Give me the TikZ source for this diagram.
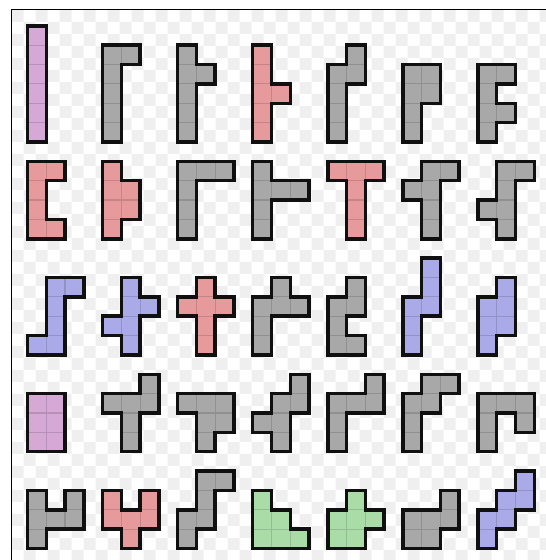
\documentclass[tikz,border=0pt]{standalone}
\usepackage{tikz}
\definecolor{rimink}{HTML}{101010}
\definecolor{slate}{HTML}{A8A8A8}
\definecolor{orchid}{HTML}{D5A8D6}
\definecolor{rose}{HTML}{E79A9C}
\definecolor{periwinkle}{HTML}{AAAAE8}
\definecolor{mint}{HTML}{A9DCA7}
\definecolor{checker}{HTML}{EFEFEF}
\tikzset{
  rim/.style={draw=rimink,line width=3.5pt,line cap=rect},
  seam/.style={line width=1.2pt},
  frameline/.style={draw=black,line width=.9pt},
}
\makeatletter
% outer edge of a cell, drawn only when the neighbour #1 is not in the list #2
\newcommand\hexedge[3]{%
  \edef\hex@tmp{\noexpand\in@{,#1,}{,#2,}}\hex@tmp
  \ifin@\else\draw[rim] #3;\fi}
% #1,#2 = top left corner, #3 = colour, #4 = cells col/row
\newcommand\hexomino[4]{%
  \begin{scope}[shift={(#1,#2)}]
    \foreach \cx/\cy in {#4}{\fill[#3] (\cx,-\cy) rectangle ++(1,-1);}
    \foreach \cx/\cy in {#4}{\draw[seam,draw=#3!86!black] (\cx,-\cy) rectangle ++(1,-1);}
    \foreach \cx/\cy in {#4}{%
      \pgfmathtruncatemacro\lx{\cx-1}\pgfmathtruncatemacro\rx{\cx+1}%
      \pgfmathtruncatemacro\uy{\cy-1}\pgfmathtruncatemacro\dy{\cy+1}%
      \hexedge{\lx/\cy}{#4}{(\cx,-\cy) -- ++(0,-1)}%
      \hexedge{\rx/\cy}{#4}{(\rx,-\cy) -- ++(0,-1)}%
      \hexedge{\cx/\uy}{#4}{(\cx,-\cy) -- ++(1,0)}%
      \hexedge{\cx/\dy}{#4}{(\cx,-\dy) -- ++(1,0)}%
    }
  \end{scope}}
\makeatother

\begin{document}
\begin{tikzpicture}[x=18.77pt,y=19.36pt]
  \useasboundingbox (-1.465,1.333) rectangle (27.624,-27.593);
  % backdrop
  \begin{scope}[shift={(-0.852,0.826)},x=12pt,y=-12pt]
    \foreach \i in {0,2,...,44}
      \foreach \j in {0,2,...,46}
        {\fill[checker] (\i,\j) rectangle ++(1,1) (\i+1,\j+1) rectangle ++(1,1);}
  \end{scope}
  \draw[frameline] (28,0.826) -| (-0.852,-28);

  % row 1
  \hexomino{0}{0}{orchid}{0/0,0/1,0/2,0/3,0/4,0/5}
  \hexomino{4}{-1}{slate}{0/0,1/0,0/1,0/2,0/3,0/4}
  \hexomino{8}{-1}{slate}{0/0,0/1,1/1,0/2,0/3,0/4}
  \hexomino{12}{-1}{rose}{0/0,0/1,0/2,1/2,0/3,0/4}
  \hexomino{16}{-1}{slate}{1/0,0/1,1/1,0/2,0/3,0/4}
  \hexomino{20}{-2}{slate}{0/0,1/0,0/1,1/1,0/2,0/3}
  \hexomino{24}{-2}{slate}{0/0,1/0,0/1,0/2,1/2,0/3}
  % row 2
  \hexomino{0}{-7}{rose}{0/0,1/0,0/1,0/2,0/3,1/3}
  \hexomino{4}{-7}{rose}{0/0,0/1,1/1,0/2,1/2,0/3}
  \hexomino{8}{-7}{slate}{0/0,1/0,2/0,0/1,0/2,0/3}
  \hexomino{12}{-7}{slate}{0/0,0/1,1/1,2/1,0/2,0/3}
  \hexomino{16}{-7}{rose}{0/0,1/0,2/0,1/1,1/2,1/3}
  \hexomino{20}{-7}{slate}{1/0,2/0,0/1,1/1,1/2,1/3}
  \hexomino{24}{-7}{slate}{1/0,2/0,1/1,0/2,1/2,1/3}
  % row 3
  \hexomino{0}{-13}{periwinkle}{1/0,2/0,1/1,1/2,0/3,1/3}
  \hexomino{4}{-13}{periwinkle}{1/0,1/1,2/1,0/2,1/2,1/3}
  \hexomino{8}{-13}{rose}{1/0,0/1,1/1,2/1,1/2,1/3}
  \hexomino{12}{-13}{slate}{1/0,0/1,1/1,2/1,0/2,0/3}
  \hexomino{16}{-13}{slate}{1/0,0/1,1/1,0/2,0/3,1/3}
  \hexomino{20}{-12}{periwinkle}{1/0,1/1,0/2,1/2,0/3,0/4}
  \hexomino{24}{-13}{periwinkle}{1/0,0/1,1/1,0/2,1/2,0/3}
  % row 4
  \hexomino{0}{-19}{orchid}{0/0,1/0,0/1,1/1,0/2,1/2}
  \hexomino{4}{-18}{slate}{2/0,0/1,1/1,2/1,1/2,1/3}
  \hexomino{8}{-19}{slate}{0/0,1/0,2/0,1/1,2/1,1/2}
  \hexomino{12}{-18}{slate}{2/0,1/1,2/1,0/2,1/2,1/3}
  \hexomino{16}{-18}{slate}{2/0,0/1,1/1,2/1,0/2,0/3}
  \hexomino{20}{-18}{slate}{1/0,2/0,0/1,1/1,0/2,0/3}
  \hexomino{24}{-19}{slate}{0/0,1/0,2/0,0/1,2/1,0/2}
  % row 5
  \hexomino{0}{-24}{slate}{0/0,2/0,0/1,1/1,2/1,0/2}
  \hexomino{4}{-24}{rose}{0/0,2/0,0/1,1/1,2/1,1/2}
  \hexomino{8}{-23}{slate}{1/0,2/0,1/1,0/2,1/2,0/3}
  \hexomino{12}{-24}{mint}{0/0,0/1,1/1,0/2,1/2,2/2}
  \hexomino{16}{-24}{mint}{1/0,0/1,1/1,2/1,0/2,1/2}
  \hexomino{20}{-24}{slate}{2/0,0/1,1/1,2/1,0/2,1/2}
  \hexomino{24}{-23}{periwinkle}{2/0,1/1,2/1,0/2,1/2,0/3}
\end{tikzpicture}
\end{document}
